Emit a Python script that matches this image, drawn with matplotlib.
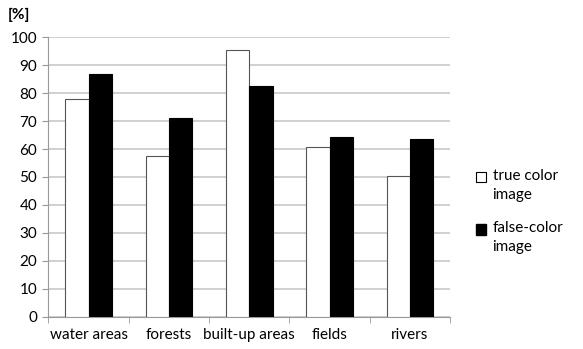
import matplotlib.pyplot as plt
from matplotlib.patches import Patch, Rectangle
from matplotlib.legend_handler import HandlerPatch
import numpy as np

# chart data
categories = ['water areas', 'forests', 'built-up areas', 'fields', 'rivers']
true_color = [78, 57.6, 95.5, 60.7, 50.2]
false_color = [87, 71, 82.6, 64.3, 63.7]
series_labels = ['true color\nimage', 'false-color\nimage']
y_ticks = list(range(0, 101, 10))

plt.rcParams['font.family'] = ['Lato', 'DejaVu Sans']

fig = plt.figure(figsize=(5.83, 3.49), dpi=100)
ax = fig.add_axes([0.083, 0.093, 0.689, 0.800])

x = np.arange(len(categories))
w = 0.29
ax.bar(x - w / 2, true_color, w, color='white', edgecolor='#555555', linewidth=0.8, zorder=3)
ax.bar(x + w / 2, false_color, w, color='black', edgecolor='black', linewidth=0.8, zorder=3)

ax.set_xlim(-0.5, len(categories) - 0.5)
ax.set_ylim(0, 100)
ax.set_yticks(y_ticks)
ax.set_xticks(x)
ax.set_xticklabels(categories)
# small tick marks on category boundaries
ax.set_xticks(np.arange(-0.5, len(categories), 1), minor=True)
ax.tick_params(axis='x', which='major', length=0, pad=8, labelsize=11)
ax.tick_params(axis='x', which='minor', length=4, color='#999999')
ax.tick_params(axis='y', length=4, color='#999999', labelsize=11, pad=4)

ax.grid(axis='y', color='#c8c8c8', linewidth=1.2, zorder=0)
for s in ['top', 'right']:
    ax.spines[s].set_visible(False)
for s in ['left', 'bottom']:
    ax.spines[s].set_color('#999999')

fig.text(0.014, 0.945, '[%]', fontsize=11, fontweight='bold')


# put the legend square next to the first line of the label
def top_square(legend, orig_handle, xdescent, ydescent, width, height, fontsize):
    return Rectangle((-xdescent, -ydescent + 0.8 * height), width, height)


handles = [Patch(facecolor='white', edgecolor='black', linewidth=0.8),
           Patch(facecolor='black', edgecolor='black')]
leg = ax.legend(handles, series_labels, loc='upper left', bbox_to_anchor=(1.045, 0.555),
                frameon=False, fontsize=11, handlelength=0.7, handleheight=0.7,
                handletextpad=0.4, labelspacing=1.3, borderpad=0,
                handler_map={Patch: HandlerPatch(patch_func=top_square)})
for t in leg.get_texts():
    t.set_linespacing(1.4)

fig.savefig('out.png', dpi=100)
